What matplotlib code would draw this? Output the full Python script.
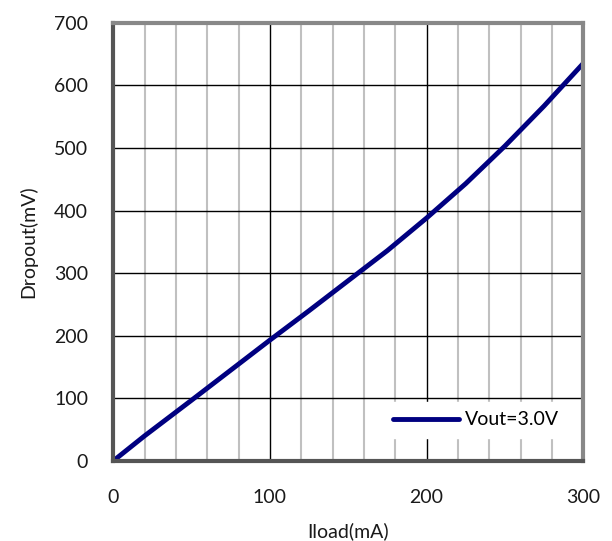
import matplotlib.pyplot as plt
from matplotlib.ticker import MultipleLocator

plt.rcParams['font.family'] = ['Lato', 'DejaVu Sans']

iload = [0, 10, 20, 30, 50, 75, 100, 125, 150, 175, 200, 225, 250, 275, 300]
dropout = [0, 20, 40, 59, 97, 145, 193, 240, 288, 336, 388, 443, 503, 567, 635]

fig = plt.figure(figsize=(6.12, 5.41), dpi=100)
ax = fig.add_axes([0.185, 0.148, 0.768, 0.81])

ax.plot(iload, dropout, color='#000080', lw=3.5, label='Vout=3.0V', solid_capstyle='round')

ax.set_xlim(0, 300)
ax.set_ylim(0, 700)
ax.xaxis.set_major_locator(MultipleLocator(100))
ax.xaxis.set_minor_locator(MultipleLocator(20))
ax.yaxis.set_major_locator(MultipleLocator(100))
ax.grid(which='minor', axis='x', color='#c0c0c0', lw=1.5)
ax.grid(which='major', color='black', lw=1)
ax.set_axisbelow(True)
ax.tick_params(which='both', length=0, labelsize=14, labelcolor='#1a1a1a')
ax.tick_params(axis='y', pad=18)
ax.tick_params(axis='x', pad=20)

for s in ['top', 'right']:
    ax.spines[s].set_color('#888888')
    ax.spines[s].set_linewidth(3)
for s in ['left', 'bottom']:
    ax.spines[s].set_color('#555555')
    ax.spines[s].set_linewidth(3)

ax.set_xlabel('Iload(mA)', fontsize=14, labelpad=12, color='#1a1a1a')
ax.set_ylabel('Dropout(mV)', fontsize=14, labelpad=12, color='#1a1a1a')

leg = ax.legend(loc='lower right', bbox_to_anchor=(0.99, 0.03), frameon=True, fontsize=14,
                handlelength=3.4, handletextpad=0.3, borderpad=0.5)
leg.get_frame().set_edgecolor('white')
leg.get_frame().set_alpha(1)
leg.get_frame().set_boxstyle('square', pad=0)

fig.savefig('out.png', dpi=100)
